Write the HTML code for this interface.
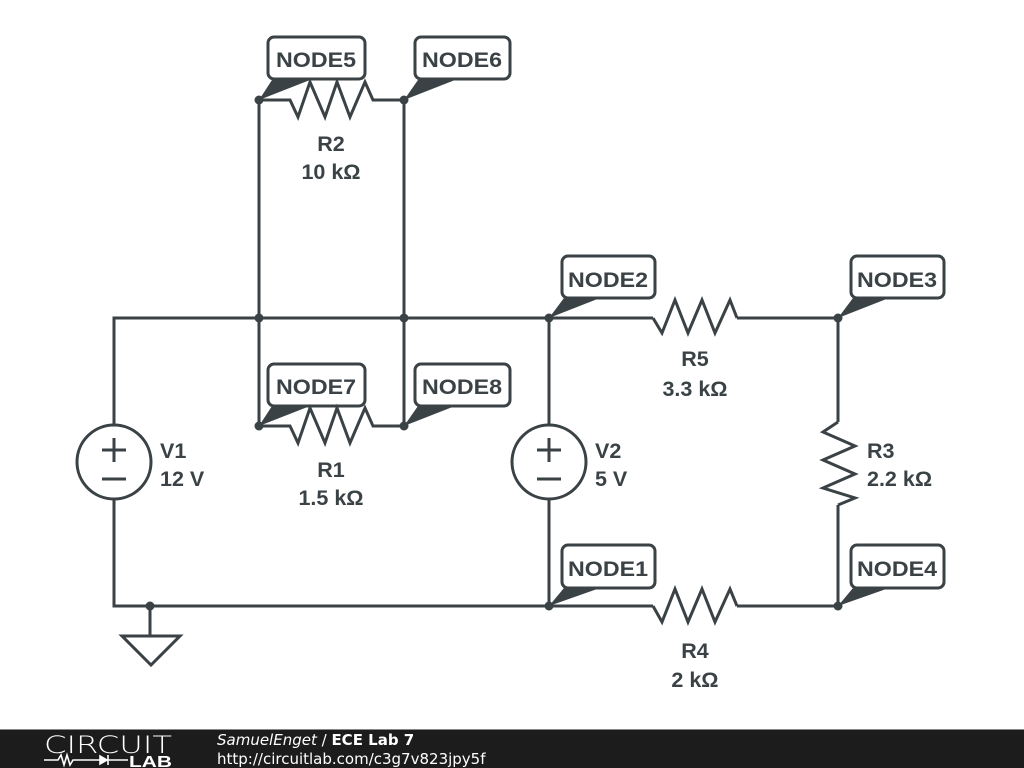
<!DOCTYPE html>
<html><head><meta charset="utf-8"><style>
html,body{margin:0;padding:0;background:#fff;width:1024px;height:768px;overflow:hidden}
svg{display:block}
.t{font-family:"Liberation Sans",sans-serif;font-weight:bold;font-size:21.5px;fill:#3a4245}
</style></head><body>
<svg width="1024" height="768" viewBox="0 0 1024 768">
<g stroke="#3a4245" stroke-width="3" fill="none" stroke-linejoin="miter">
<polyline points="114,425 114,318 653,318"/>
<polyline points="737,318 838,318 838,422"/>
<polyline points="114,499 114,606 653,606"/>
<polyline points="737,606 838,606 838,505"/>
<line x1="259" y1="100" x2="259" y2="426"/>
<line x1="404" y1="100" x2="404" y2="426"/>
<line x1="549" y1="318" x2="549" y2="425"/>
<line x1="549" y1="499" x2="549" y2="606"/>
<polyline points="259,100 290,100 298,117 310,82 325,117 337,82 350,117 365,82 373,100 404,100"/>
<polyline points="259,426 290,426 298,443 310,408 325,443 337,408 350,443 365,408 373,426 404,426"/>
<polyline points="653,318 662,333 675,300 688,333 702,300 715,333 730,300 737,318"/>
<polyline points="653,606 662,622 675,589 688,622 702,589 715,622 730,589 737,606"/>
<polyline points="838,422 823,432 855,446 823,460 855,474 823,488 855,498 838,505"/>
<circle cx="114" cy="462" r="37"/>
<circle cx="549" cy="462" r="37"/>
<line x1="102" y1="450" x2="126" y2="450"/><line x1="114" y1="438" x2="114" y2="462"/>
<line x1="102" y1="479" x2="126" y2="479"/>
<line x1="537" y1="450" x2="561" y2="450"/><line x1="549" y1="438" x2="549" y2="462"/>
<line x1="537" y1="479" x2="561" y2="479"/>
<line x1="150" y1="606" x2="150" y2="636"/>
<polygon points="122,636 180,636 151,665"/>
<rect x="268" y="37" width="97" height="42" rx="6"/>
<rect x="415" y="37" width="95" height="42" rx="6"/>
<rect x="268" y="364" width="97" height="42" rx="6"/>
<rect x="415" y="364" width="95" height="42" rx="6"/>
<rect x="562" y="256" width="93" height="42" rx="6"/>
<rect x="851" y="256" width="93" height="42" rx="6"/>
<rect x="562" y="545" width="93" height="43" rx="6"/>
<rect x="851" y="545" width="93" height="43" rx="6"/>
</g>
<g fill="#3a4245">
<circle cx="259" cy="100" r="4.5"/><circle cx="404" cy="100" r="4.5"/>
<circle cx="259" cy="426" r="4.5"/><circle cx="404" cy="426" r="4.5"/>
<circle cx="259" cy="318" r="4.5"/><circle cx="404" cy="318" r="4.5"/>
<circle cx="549" cy="318" r="4.5"/><circle cx="838" cy="318" r="4.5"/>
<circle cx="549" cy="606" r="4.5"/><circle cx="838" cy="606" r="4.5"/>
<circle cx="150" cy="606" r="4.5"/>
<polygon points="259,100 272,80 310,80"/>
<polygon points="404,100 418,80 455,80"/>
<polygon points="259,426 272,406 310,406"/>
<polygon points="404,426 418,406 455,406"/>
<polygon points="549,318 564,298 600,298"/>
<polygon points="838,318 853,298 889,298"/>
<polygon points="549,606 564,588 600,588"/>
<polygon points="838,606 853,588 889,588"/>
</g>
<g class="t" text-anchor="middle">
<text x="316" y="67" textLength="80" lengthAdjust="spacingAndGlyphs">NODE5</text>
<text x="462" y="67" textLength="80" lengthAdjust="spacingAndGlyphs">NODE6</text>
<text x="316" y="394" textLength="80" lengthAdjust="spacingAndGlyphs">NODE7</text>
<text x="462" y="394" textLength="80" lengthAdjust="spacingAndGlyphs">NODE8</text>
<text x="608" y="287" textLength="80" lengthAdjust="spacingAndGlyphs">NODE2</text>
<text x="897" y="287" textLength="80" lengthAdjust="spacingAndGlyphs">NODE3</text>
<text x="608" y="576" textLength="80" lengthAdjust="spacingAndGlyphs">NODE1</text>
<text x="897" y="576" textLength="80" lengthAdjust="spacingAndGlyphs">NODE4</text>
<text x="331" y="151">R2</text><text x="331" y="179">10 kΩ</text>
<text x="331" y="477">R1</text><text x="331" y="505">1.5 kΩ</text>
<text x="695" y="366">R5</text><text x="695" y="396">3.3 kΩ</text>
<text x="695" y="658">R4</text><text x="695" y="687">2 kΩ</text>
</g>
<g class="t">
<text x="160" y="458">V1</text><text x="160" y="486">12 V</text>
<text x="595" y="458">V2</text><text x="595" y="486">5 V</text>
<text x="867" y="458">R3</text><text x="867" y="486">2.2 kΩ</text>
</g>
<rect x="0" y="729" width="1024" height="39" fill="#1c1c1c"/>
<line x1="0" y1="729.5" x2="1024" y2="729.5" stroke="#888" stroke-width="1"/>
<text x="44" y="753" font-family="DejaVu Sans,sans-serif" font-size="24" font-weight="200" fill="#fff" textLength="128" lengthAdjust="spacingAndGlyphs">CIRCUIT</text>
<g stroke="#fff" stroke-width="1.6" fill="none">
<polyline points="44,760 58,760 61,755 64,765 67,755 70,765 73,760 100,760"/>
<polygon points="100,756 100,764 107,760" fill="#fff"/>
<line x1="108" y1="755" x2="108" y2="765"/>
<line x1="108" y1="760" x2="128" y2="760"/>
</g>
<text x="129" y="767" font-family="Liberation Sans,sans-serif" font-weight="bold" font-size="16" fill="#fff" textLength="43" lengthAdjust="spacingAndGlyphs">LAB</text>
<text x="217" y="745" font-family="DejaVu Sans,sans-serif" font-size="15" fill="#fff"><tspan font-style="italic">SamuelEnget</tspan> / <tspan font-weight="bold">ECE Lab 7</tspan></text>
<text x="217" y="764" font-family="DejaVu Sans,sans-serif" font-size="15" fill="#fff">http://circuitlab.com/c3g7v823jpy5f</text>
</svg>
</body></html>
